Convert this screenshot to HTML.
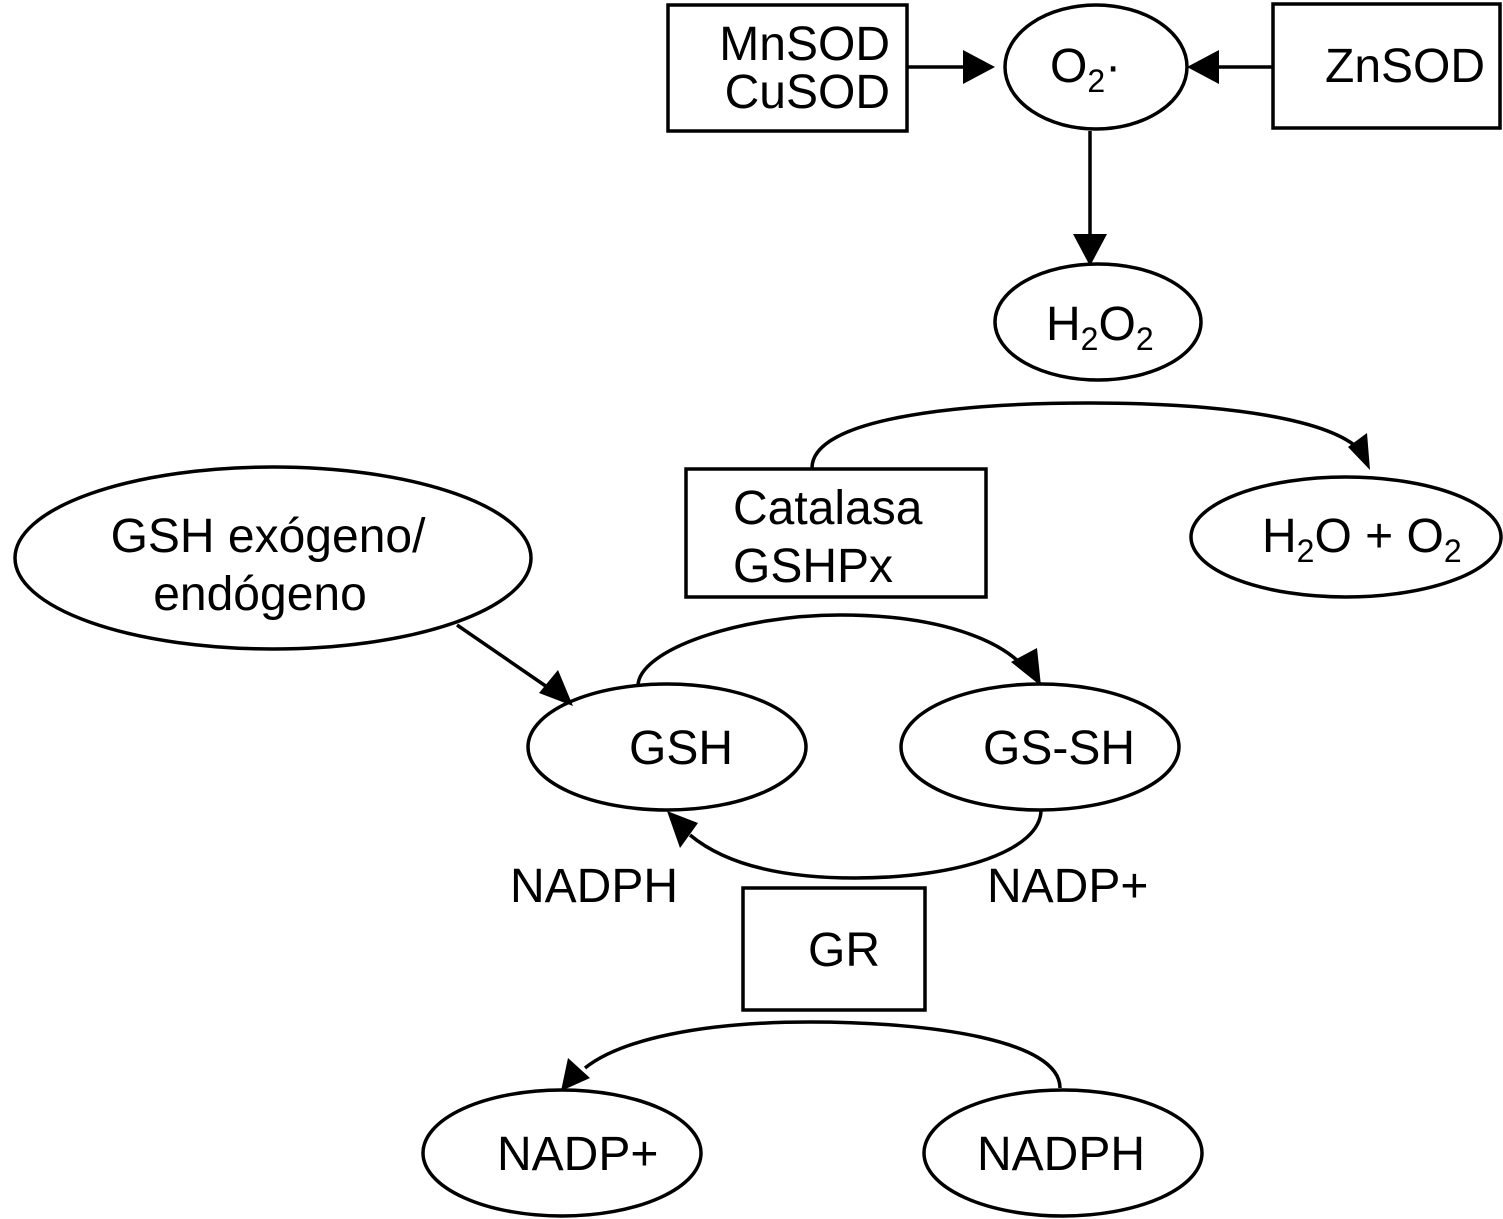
<!DOCTYPE html>
<html><head><meta charset="utf-8"><style>
html,body{margin:0;padding:0;background:#fff;}
svg{display:block;}
text{font-family:"Liberation Sans",Arial,sans-serif;font-size:48px;fill:#000;}
</style></head><body>
<svg width="1503" height="1219" viewBox="0 0 1503 1219" xmlns="http://www.w3.org/2000/svg">
<g fill="none" stroke="#000" stroke-width="3.5">
<rect x="668" y="5" width="239" height="126"/>
<ellipse cx="1096" cy="67" rx="91" ry="62"/>
<rect x="1273" y="4" width="227" height="124"/>
<line x1="907" y1="67" x2="965" y2="67"/>
<line x1="1273" y1="67" x2="1215" y2="67"/>
<line x1="1090" y1="131" x2="1090" y2="236"/>
<ellipse cx="1098" cy="322" rx="103" ry="58"/>
<path d="M812,468 C812,420 950,403 1090,403 C1230,403 1330,420 1360,450"/>
<rect x="686" y="469" width="300" height="128"/>
<ellipse cx="1346" cy="537" rx="155" ry="60"/>
<ellipse cx="273" cy="558" rx="258" ry="91"/>
<line x1="457" y1="625" x2="550" y2="689"/>
<ellipse cx="667" cy="747" rx="139" ry="63"/>
<ellipse cx="1040" cy="747" rx="139" ry="63"/>
<path d="M638,686 C638,650 740,615 840,615 C940,615 1000,640 1025,668"/>
<path d="M1041,810 C1041,850 960,878 855,878 C770,878 720,860 690,835"/>
<rect x="743" y="888" width="182" height="122"/>
<path d="M1060,1088 C1060,1040 930,1022 810,1022 C700,1022 620,1040 585,1068"/>
<ellipse cx="562" cy="1153" rx="139" ry="63"/>
<ellipse cx="1063" cy="1153" rx="139" ry="63"/>
</g>
<g fill="#000">
<polygon points="995,67 963,50 963,84"/>
<polygon points="1187,67 1219,50 1219,84"/>
<polygon points="1090,266 1073,234 1107,234"/>
<polygon points="1370,470 1348,447 1367,433"/>
<polygon points="573,706 539,693 558,670"/>
<polygon points="1041,686 1011,662 1037,648"/>
<polygon points="667,811 698,823 680,848"/>
<polygon points="561,1091 568,1058 590,1078"/>
</g>
<text x="890" y="60" text-anchor="end">MnSOD</text>
<text x="890" y="108" text-anchor="end">CuSOD</text>
<text x="1050" y="82">O<tspan font-size="32" dy="10">2</tspan><tspan dy="-10">·</tspan></text>
<text x="1325" y="82">ZnSOD</text>
<text x="1046" y="340">H<tspan font-size="32" dy="10">2</tspan><tspan dy="-10">O</tspan><tspan font-size="32" dy="10">2</tspan></text>
<text x="733" y="524">Catalasa</text>
<text x="733" y="582">GSHPx</text>
<text x="1262" y="552">H<tspan font-size="32" dy="10">2</tspan><tspan dy="-10">O + O</tspan><tspan font-size="32" dy="10">2</tspan></text>
<text x="268" y="552" text-anchor="middle">GSH exógeno/</text>
<text x="260" y="610" text-anchor="middle">endógeno</text>
<text x="629" y="764">GSH</text>
<text x="983" y="764">GS-SH</text>
<text x="510" y="902">NADPH</text>
<text x="987" y="902">NADP+</text>
<text x="808" y="966">GR</text>
<text x="497" y="1170">NADP+</text>
<text x="977" y="1170">NADPH</text>
</svg>
</body></html>
